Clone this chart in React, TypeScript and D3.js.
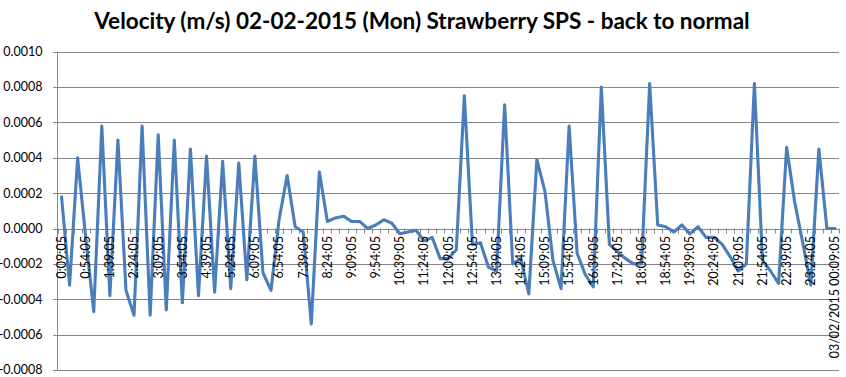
import React from "react";
import * as d3 from "d3";

const title = "Velocity (m/s) 02-02-2015 (Mon) Strawberry SPS - back to normal";

// velocity readings, one every 15 minutes from 0:09:05 to 03/02/2015 00:09:05
const velocity: number[] = [
  0.00018, -0.00032, 0.0004, -0.00005, -0.00047, 0.00058, -0.00038, 0.0005, -0.00035, -0.00049,
  0.00058, -0.00049, 0.00053, -0.00046, 0.0005, -0.00042, 0.00045, -0.00038, 0.00041, -0.00036,
  0.00038, -0.00034, 0.00037, -0.00029, 0.00041, -0.00025, -0.00035, 0.00005, 0.0003, 0.00001,
  -0.00002, -0.00054, 0.00032, 0.00004, 0.00006, 0.00007, 0.00004, 0.00004, 0.0, 0.00002,
  0.00005, 0.00003, -0.00003, -0.00002, -0.00001, -0.00007, -0.00005, -0.00017, -0.00017, -0.00012,
  0.00075, -0.00009, -0.00008, -0.00022, -0.00024, 0.0007, -0.0002, -0.00017, -0.00037, 0.00039,
  0.00021, -0.00018, -0.00034, 0.00058, -0.00014, -0.00026, -0.00033, 0.0008, -0.00009, -0.00013,
  -0.00017, -0.0002, -0.0002, 0.00082, 0.00002, 0.00001, -0.00002, 0.00002, -0.00003, 0.00001,
  -0.00005, -0.00005, -0.00009, -0.00016, -0.00024, -0.0002, 0.00082, -0.00018, -0.00024, -0.00031,
  0.00046, 0.00015, -0.00008, -0.00032, 0.00045, 0.0, 0.0,
];

// category labels shown every third reading (every 45 minutes)
const tickLabels: string[] = [
  "0:09:05", "0:54:05", "1:39:05", "2:24:05", "3:09:05", "3:54:05", "4:39:05", "5:24:05",
  "6:09:05", "6:54:05", "7:39:05", "8:24:05", "9:09:05", "9:54:05", "10:39:05", "11:24:05",
  "12:09:05", "12:54:05", "13:39:05", "14:24:05", "15:09:05", "15:54:05", "16:39:05", "17:24:05",
  "18:09:05", "18:54:05", "19:39:05", "20:24:05", "21:09:05", "21:54:05", "22:39:05", "23:24:05",
  "03/02/2015 00:09:05",
];
const labelEvery = 3;

const yTicks: number[] = [-0.0008, -0.0006, -0.0004, -0.0002, 0, 0.0002, 0.0004, 0.0006, 0.0008, 0.001];

const W = 846;
const H = 377;
const left = 57.5;
const right = 839;
const top = 51.7;
const bottom = 370;
const font = "Lato, 'Open Sans', sans-serif";
const gridColor = "#878787";

export default function App() {
  const idx = d3.range(velocity.length);
  const x = d3.scaleBand<number>().domain(idx).range([left, right]).paddingInner(0).paddingOuter(0);
  const y = d3.scaleLinear().domain([-0.0008, 0.001]).range([bottom, top]);
  const cx = (i: number) => (x(i) as number) + x.bandwidth() / 2;
  const line = d3
    .line<number>()
    .x((_, i) => cx(i))
    .y((d) => y(d));
  const y0 = y(0);
  const boundaries = d3.range(velocity.length + 1).map((i) => left + i * x.bandwidth());

  return (
    <svg
      width={W}
      height={H}
      style={{ position: "absolute", left: 0, top: 0, background: "#fff" }}
      fontFamily={font}
    >
      <rect x={0} y={0} width={W} height={H} fill="#fff" />
      <text x={422} y={28.5} textAnchor="middle" fontSize={22.5} fontWeight="bold" fill="#000">
        {title}
      </text>
      {yTicks.map((t) => (
        <g key={t}>
          <line x1={left - 4.5} x2={right} y1={Math.round(y(t)) + 0.5} y2={Math.round(y(t)) + 0.5} stroke={gridColor} strokeWidth={1} />
          <text x={42.5} y={y(t)} dy="0.35em" textAnchor="end" fontSize={12.5} fill="#000">
            {d3.format(".4f")(t).replace("−", "-")}
          </text>
        </g>
      ))}
      <line x1={left} x2={left} y1={top} y2={bottom} stroke={gridColor} strokeWidth={1} />
      {boundaries.map((b, i) => (
        <line key={i} x1={Math.round(b) + 0.5} x2={Math.round(b) + 0.5} y1={y0} y2={y0 + 5} stroke={gridColor} strokeWidth={1} />
      ))}
      <path d={line(velocity) || ""} fill="none" stroke="#4a7ebb" strokeWidth={3.1} strokeLinejoin="round" strokeLinecap="round" />
      {tickLabels.map((lab, k) => {
        const px = cx(k * labelEvery);
        const py = y0 + 7.5;
        return (
          <text
            key={lab}
            transform={`translate(${px},${py}) rotate(-90)`}
            textAnchor="end"
            dy="0.35em"
            fontSize={12.5}
            fill="#000"
          >
            {lab}
          </text>
        );
      })}
    </svg>
  );
}
